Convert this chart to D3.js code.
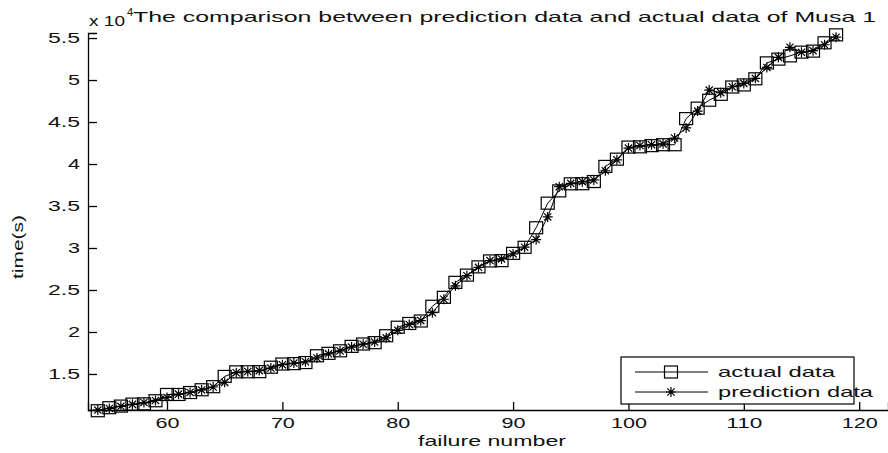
<!DOCTYPE html>
<html>
<head>
<meta charset="utf-8">
<script src="https://cdn.jsdelivr.net/npm/d3@7"></script>
<style>
  body { margin: 0; background: #fff; }
  text { font-family: "Liberation Sans", Arial, sans-serif; fill: #111; }
</style>
</head>
<body>
<div id="chart"></div>
<script>
// failure numbers shown on the plot
var failureNumbers = d3.range(54, 119);

// actual cumulative failure times (s)
var actualData = [10625, 10982, 11175, 11411, 11442, 11811, 12559, 12559, 12791, 13121,
    13486, 14708, 15251, 15261, 15277, 15806, 16185, 16229, 16358, 17168,
    17458, 17758, 18287, 18568, 18728, 19556, 20567, 21012, 21308, 23063,
    24127, 25910, 26770, 27753, 28460, 28493, 29361, 30085, 32408, 35338,
    36799, 37642, 37654, 37915, 39715, 40580, 42015, 42045, 42188, 42296,
    42296, 45406, 46653, 47596, 48296, 49171, 49416, 50145, 52042, 52489,
    52875, 53321, 53443, 54433, 55381];

// predicted cumulative failure times (s)
var predictionData = [10700, 10900, 11150, 11380, 11600, 11850, 12200, 12600, 12800, 13100,
    13450, 14000, 15150, 15300, 15400, 15700, 16100, 16300, 16450, 16900,
    17400, 17750, 18200, 18550, 18800, 19300, 20200, 20900, 21350, 22300,
    23900, 25500, 26700, 27700, 28500, 28700, 29300, 30100, 31000, 33700,
    37300, 37700, 37900, 38100, 39200, 40500, 41900, 42200, 42300, 42400,
    43100, 44300, 46300, 48800, 48500, 49200, 49600, 50200, 51500, 52700,
    53900, 53300, 53500, 54200, 55100];

var xTicks = [60, 70, 80, 90, 100, 110, 120];
var yTicks = [1.5, 2, 2.5, 3, 3.5, 4, 4.5, 5, 5.5];

var svgWidth = 888;
var svgHeight = 453;

var svg = d3.select("#chart")
    .append("svg")
    .attr("width", svgWidth)
    .attr("height", svgHeight);

// scales (y is shown in units of 10^4 s)
var xScale = d3.scaleLinear()
    .domain([53.15, 122.5])
    .range([88, 888]);

var yScale = d3.scaleLinear()
    .domain([1.071, 5.56])
    .range([410, 33]);

var actual = failureNumbers.map(function(n, i) { return {n: n, v: actualData[i] / 1e4}; });
var prediction = failureNumbers.map(function(n, i) { return {n: n, v: predictionData[i] / 1e4}; });

// the reference font is stretched sideways, so fit widths per label
function labelWidth(s) {
    return s.replace(/\./g, "").length * 12 + (s.indexOf(".") >= 0 ? 8 : 0);
}

// axes, ticks pointing inwards like matlab
var xAxis = d3.axisBottom(xScale).tickValues(xTicks).tickSize(-8).tickPadding(7);
var yAxis = d3.axisLeft(yScale).tickValues(yTicks).tickSize(-9).tickPadding(8)
    .tickFormat(d3.format("~g"));

var gx = svg.append("g")
    .attr("transform", "translate(0, 410)")
    .call(xAxis);
var gy = svg.append("g")
    .attr("transform", "translate(88, 0)")
    .call(yAxis);

[gx, gy].forEach(function(g) {
    g.select(".domain").attr("stroke", "#000").attr("stroke-width", 1.3);
    g.selectAll(".tick line").attr("stroke", "#000").attr("stroke-width", 1.3);
    g.selectAll(".tick text")
        .attr("font-size", "15px")
        .attr("fill", "#111")
        .attr("textLength", function() { return labelWidth(this.textContent); })
        .attr("lengthAdjust", "spacingAndGlyphs");
});

// lines
var line = d3.line()
    .x(function(d) { return xScale(d.n); })
    .y(function(d) { return yScale(d.v); });

svg.append("path")
    .datum(actual)
    .attr("d", line)
    .attr("fill", "none")
    .attr("stroke", "#000")
    .attr("stroke-width", 1);

svg.append("path")
    .datum(prediction)
    .attr("d", line)
    .attr("fill", "none")
    .attr("stroke", "#000")
    .attr("stroke-width", 1);

// square markers
svg.selectAll(".sq")
    .data(actual)
    .enter()
    .append("rect")
    .attr("class", "sq")
    .attr("x", function(d) { return xScale(d.n) - 6.5; })
    .attr("y", function(d) { return yScale(d.v) - 6; })
    .attr("width", 13)
    .attr("height", 12)
    .attr("fill", "none")
    .attr("stroke", "#000")
    .attr("stroke-width", 1.2);

// star markers
var starPath = "M-5,0L5,0M0,-5L0,5M-3.6,-3.6L3.6,3.6M-3.6,3.6L3.6,-3.6";
svg.selectAll(".star")
    .data(prediction)
    .enter()
    .append("path")
    .attr("class", "star")
    .attr("transform", function(d) { return "translate(" + xScale(d.n) + "," + yScale(d.v) + ")"; })
    .attr("d", starPath)
    .attr("stroke", "#000")
    .attr("stroke-width", 1.2);

// title and labels
svg.append("text")
    .attr("x", 133)
    .attr("y", 22)
    .attr("font-size", "15px")
    .attr("textLength", 743)
    .attr("lengthAdjust", "spacingAndGlyphs")
    .text("The comparison between prediction data and actual data of Musa 1");

svg.append("text")
    .attr("x", 89)
    .attr("y", 26)
    .attr("font-size", "15px")
    .attr("textLength", 36)
    .attr("lengthAdjust", "spacingAndGlyphs")
    .text("x 10");
svg.append("text")
    .attr("x", 127)
    .attr("y", 16)
    .attr("font-size", "11px")
    .text("4");

svg.append("text")
    .attr("x", 418)
    .attr("y", 446)
    .attr("font-size", "15px")
    .attr("textLength", 148)
    .attr("lengthAdjust", "spacingAndGlyphs")
    .text("failure number");

svg.append("text")
    .attr("transform", "translate(23, 247) rotate(-90)")
    .attr("text-anchor", "middle")
    .attr("font-size", "14px")
    .attr("textLength", 64)
    .attr("lengthAdjust", "spacingAndGlyphs")
    .text("time(s)");

// legend
var legend = svg.append("g");
legend.append("rect")
    .attr("x", 621)
    .attr("y", 357)
    .attr("width", 233)
    .attr("height", 47)
    .attr("fill", "#fff")
    .attr("stroke", "#000")
    .attr("stroke-width", 1.2);

var legendItems = [
    {label: "actual data", marker: "square", y: 372, len: 117},
    {label: "prediction data", marker: "star", y: 392, len: 155}
];

legendItems.forEach(function(item) {
    legend.append("line")
        .attr("x1", 635).attr("x2", 708)
        .attr("y1", item.y).attr("y2", item.y)
        .attr("stroke", "#000");
    if (item.marker === "square") {
        legend.append("rect")
            .attr("x", 671 - 6.5).attr("y", item.y - 6)
            .attr("width", 13).attr("height", 12)
            .attr("fill", "none").attr("stroke", "#000").attr("stroke-width", 1.2);
    } else {
        legend.append("path")
            .attr("transform", "translate(671," + item.y + ")")
            .attr("d", starPath)
            .attr("stroke", "#000").attr("stroke-width", 1.2);
    }
    legend.append("text")
        .attr("x", 718)
        .attr("y", item.y + 5)
        .attr("font-size", "15px")
        .attr("textLength", item.len)
        .attr("lengthAdjust", "spacingAndGlyphs")
        .text(item.label);
});
</script>
</body>
</html>
